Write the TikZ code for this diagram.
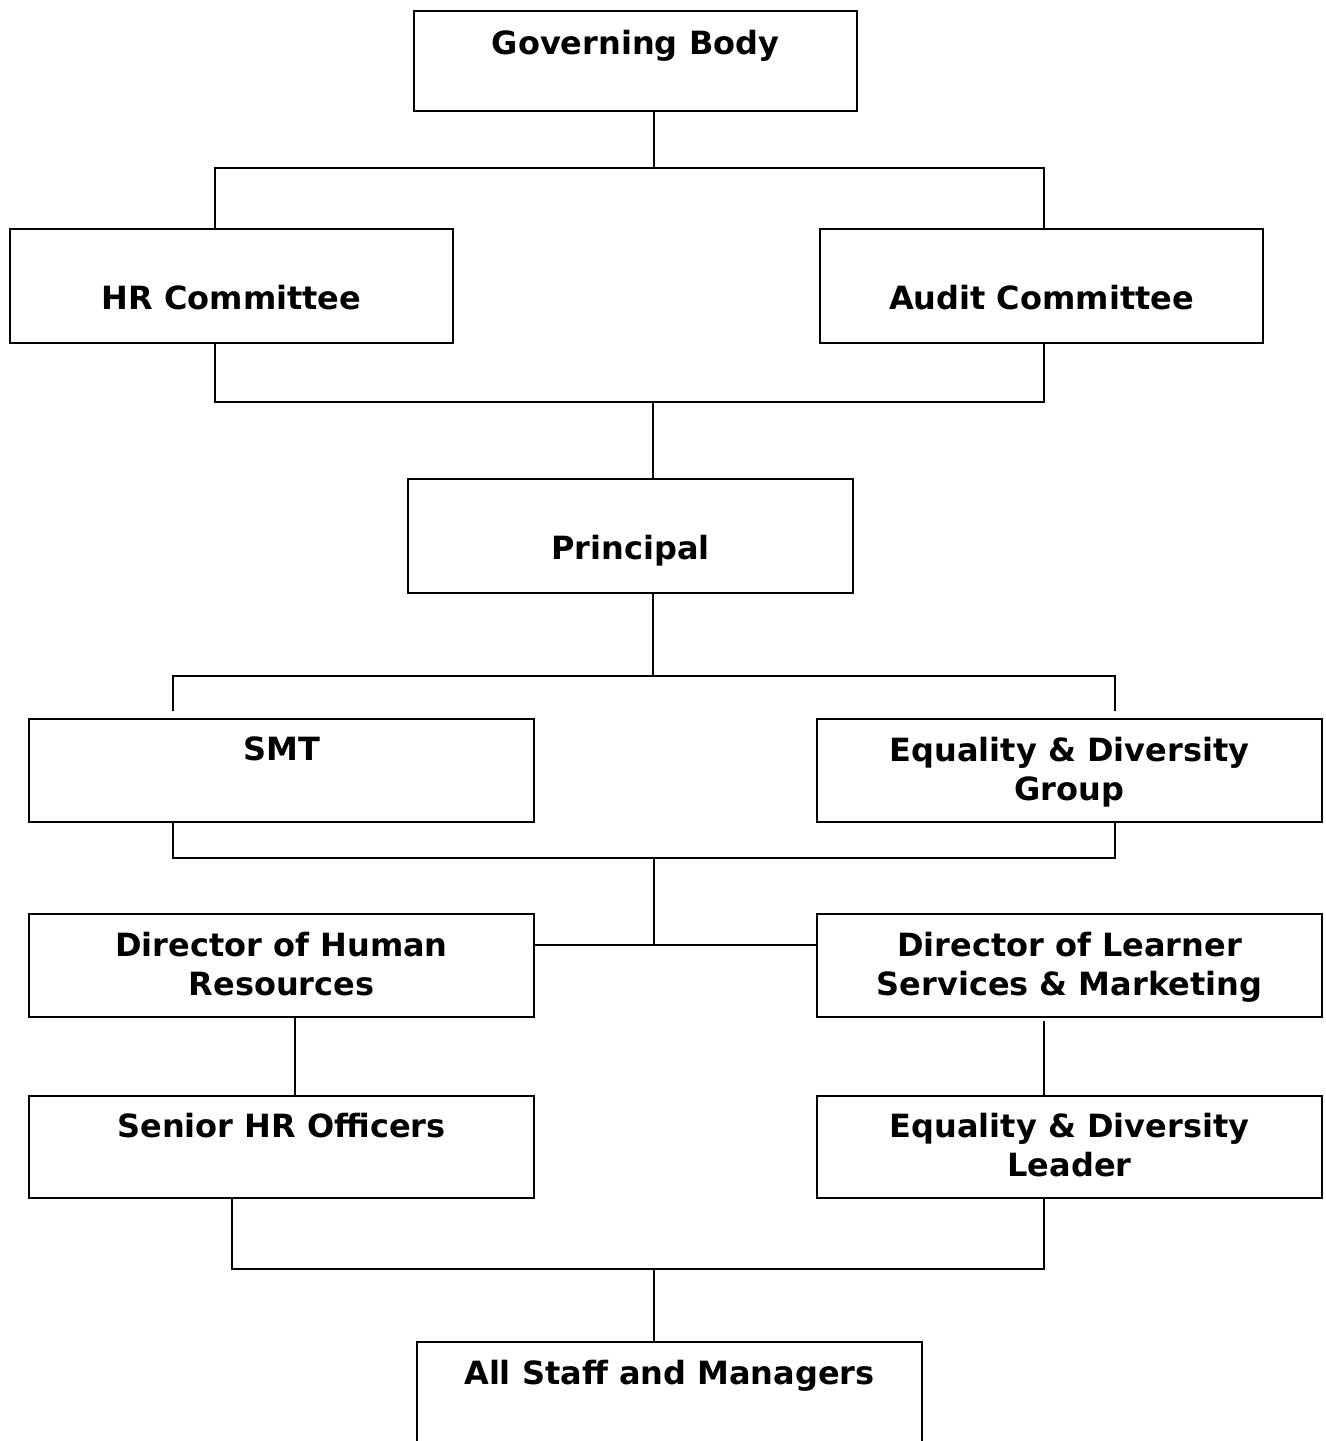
\documentclass[tikz,border=0pt]{standalone}
\usepackage{fontspec}
\setmainfont{DejaVu Sans}

\begin{document}
\begin{tikzpicture}[x=0.5pt,y=-0.5pt,line width=1pt,
    box/.style={draw,rectangle,inner sep=0pt,minimum width=252.5pt,minimum height=51.5pt},
    wide/.style={box,minimum width=221.5pt},
    tall/.style={minimum height=57pt},
    lbl/.style={font=\fontsize{16}{19.5}\selectfont\bfseries,align=center,inner sep=0pt,anchor=north},
    gap/.style={shorten <=3.5pt,shorten >=3.5pt}]
          \useasboundingbox (0,0) rectangle (1326,1441);
          \clip (0,0) rectangle (1326,1441);
          % boxes
          \node[wide,minimum height=50pt] (gov) at (635.5,61) {};
          \node[wide,tall] (hrc) at (231.5,286) {};
          \node[wide,tall] (aud) at (1041.5,286) {};
          \node[wide,tall,minimum width=222.5pt] (prin) at (630.5,536) {};
          \node[box] (smt) at (281.5,770.5) {};
          \node[box] (edg) at (1069.5,770.5) {};
          \node[box] (dhr) at (281.5,965.5) {};
          \node[box] (dls) at (1069.5,965.5) {};
          \node[box,minimum height=51pt] (shr) at (281.5,1147) {};
          \node[box,minimum height=51pt] (edl) at (1069.5,1147) {};
          \node[box] (all) at (669.5,1393.5) {};
          % texts
          \node[lbl] (govT) at ([yshift=-9.5pt]gov.north) {Governing Body};
          \node[lbl] (hrcT) at ([yshift=-28pt]hrc.north) {HR Committee};
          \node[lbl] (audT) at ([yshift=-28pt]aud.north) {Audit Committee};
          \node[lbl] (prinT) at ([yshift=-28pt]prin.north) {Principal};
          \node[lbl] (smtT) at ([yshift=-9pt]smt.north) {SMT};
          \node[lbl] (edgT) at ([yshift=-9pt]edg.north) {Equality \& Diversity\\Group};
          \node[lbl] (dhrT) at ([yshift=-9pt]dhr.north) {Director of Human\\Resources};
          \node[lbl] (dlsT) at ([yshift=-9pt]dls.north) {Director of Learner\\Services \& Marketing};
          \node[lbl] (shrT) at ([yshift=-8.5pt]shr.north) {Senior HR Officers};
          \node[lbl] (edlT) at ([yshift=-8.5pt]edl.north) {Equality \& Diversity\\Leader};
          \node[lbl] (allT) at ([yshift=-9pt]all.north) {All Staff and Managers};
          % junctions
          \coordinate (j1) at (654,168);  \coordinate (hrA) at (215,168);  \coordinate (auA) at (1044,168);
          \coordinate (j2) at (653,402);  \coordinate (hrB) at (215,402);  \coordinate (auB) at (1044,402);
          \coordinate (j3) at (653,676);  \coordinate (smA) at (173,676);  \coordinate (edA) at (1115,676);
          \coordinate (j4) at (654,858);  \coordinate (smB) at (173,858);  \coordinate (edB) at (1115,858);
          \coordinate (j5) at (654,945);
          \coordinate (dh) at (295,0);    \coordinate (dl) at (1044,0);
          \coordinate (j6) at (654,1269); \coordinate (shC) at (232,1269); \coordinate (edC) at (1044,1269);
          % connectors
          \draw (gov.south -| j1) -- (j1);
          \draw (hrc.north -| hrA) -- (hrA) -- (auA) -- (aud.north -| auA);
          \draw (hrc.south -| hrB) -- (hrB) -- (auB) -- (aud.south -| auB);
          \draw (j2) -- (prin.north -| j2);
          \draw (prin.south -| j3) -- (j3);
          \draw[gap] (smt.north -| smA) -- (smA) -- (edA) -- (edg.north -| edA);
          \draw (smt.south -| smB) -- (smB) -- (edB) -- (edg.south -| edB);
          \draw (j4) -- (j5);
          \draw (dhr.east |- j5) -- (dls.west |- j5);
          \draw (dhr.south -| dh) -- (shr.north -| dh);
          \draw[shorten <=1.5pt] (dls.south -| dl) -- (edl.north -| dl);
          \draw (shr.south -| shC) -- (shC) -- (edC) -- (edl.south -| edC);
          \draw (j6) -- (all.north -| j6);
        \end{tikzpicture}
\end{document}
